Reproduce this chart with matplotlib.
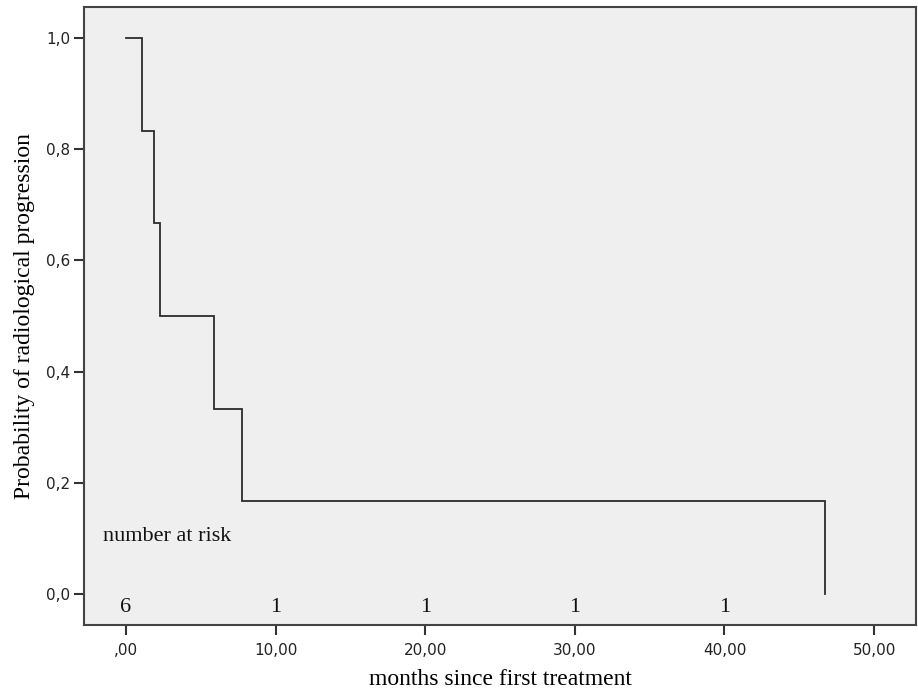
import os
import matplotlib
matplotlib.use("Agg")
import matplotlib.pyplot as plt
from matplotlib.font_manager import FontProperties

# Kaplan-Meier step data
times = [0.0, 1.1, 1.9, 2.25, 5.9, 7.75, 46.7]
surv = [1.0, 0.833, 0.667, 0.5, 0.333, 0.167, 0.0]

# number at risk
risk_times = [0, 10, 20, 30, 40]
risk_counts = ["6", "1", "1", "1", "1"]

xticks = [0, 10, 20, 30, 40, 50]
xtick_labels = [",00", "10,00", "20,00", "30,00", "40,00", "50,00"]
yticks = [0.0, 0.2, 0.4, 0.6, 0.8, 1.0]
ytick_labels = ["0,0", "0,2", "0,4", "0,6", "0,8", "1,0"]

fig = plt.figure(figsize=(9.18, 6.93), dpi=100)
ax = fig.add_axes([0.0915, 0.0981, 0.9063, 0.8918])
ax.set_facecolor("#efefef")

# build step path
xs = [times[0]]
ys = [surv[0]]
for i in range(1, len(times)):
    xs += [times[i], times[i]]
    ys += [surv[i - 1], surv[i]]
ax.plot(xs, ys, color="#2b2b2b", lw=1.3, solid_joinstyle="miter")

ax.set_xlim(-2.81, 52.8)
ax.set_ylim(-0.056, 1.056)

dv_path = os.path.join(matplotlib.get_data_path(), "fonts", "ttf", "DejaVuSans.ttf")
tickfont = FontProperties(fname=dv_path, size=11)

ax.set_xticks(xticks)
ax.set_yticks(yticks)
ax.set_xticklabels(xtick_labels, fontproperties=tickfont, color="#222222")
ax.set_yticklabels(ytick_labels, fontproperties=tickfont, color="#222222")
ax.tick_params(axis="both", direction="out", length=7, width=1.5, color="#333333")
ax.tick_params(axis="x", pad=6)
ax.tick_params(axis="y", pad=3)
for sp in ax.spines.values():
    sp.set_color("#444444")
    sp.set_linewidth(1.5)

serif = ["Liberation Serif", "DejaVu Serif"]
ax.set_xlabel("months since first treatment", family=serif, fontsize=17, labelpad=8)
ax.set_ylabel("Probability of radiological progression", family=serif, fontsize=17, labelpad=8)

ax.text(-1.55, 0.103, "number at risk", family=serif, fontsize=16, va="center", ha="left", color="#111111")
for t, c in zip(risk_times, risk_counts):
    ax.text(t, -0.025, c, family=serif, fontsize=16, ha="center", va="center", color="#111111")

fig.savefig("out.png", dpi=100, facecolor="white")
